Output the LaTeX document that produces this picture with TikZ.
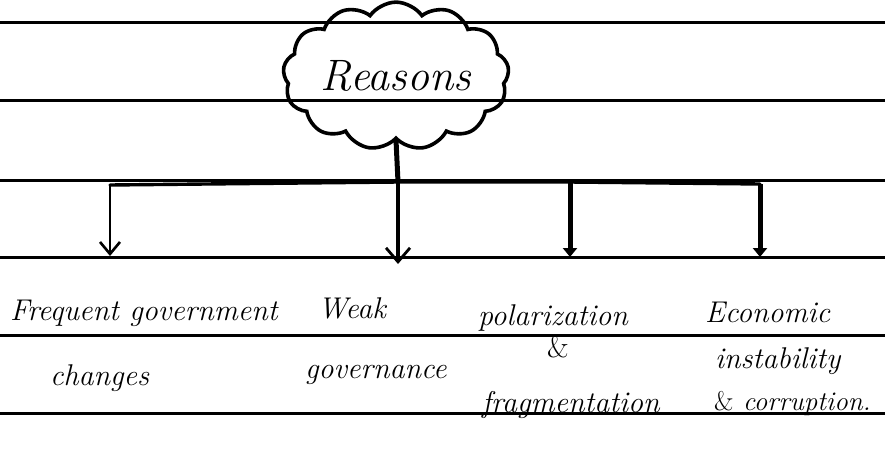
\documentclass[tikz,border=0pt]{standalone}
\usetikzlibrary{shapes.symbols,arrows.meta}
\begin{document}
\begin{tikzpicture}[x=1pt,y=-1pt,
  rule/.style={line width=3pt,black},
  bar/.style={line width=3.4pt,line cap=round},
  thinarrow/.style={line width=2.8pt,-{Straight Barb[length=12pt,width=20pt,line width=2.6pt]}},
  thickarrow/.style={line width=5pt,-{Triangle[length=9pt,width=14pt]}},
  hand/.style={inner sep=0pt,anchor=base west,font=\fontsize{30}{34}\selectfont\itshape},
  handc/.style={inner sep=0pt,anchor=base,font=\fontsize{30}{34}\selectfont}]
\useasboundingbox (0,0) rectangle (885,450);
\fill[white] (0,0) rectangle (885,450);
% ruled lines
\foreach \y in {22,100,180,257,335,413}
  \draw[rule] (0,\y) -- (885,\y);
% cloud
\node[cloud,cloud puffs=13,cloud puff arc=110,aspect=1.7,draw,line width=3.6pt,
  minimum width=226pt,minimum height=136pt,inner sep=0pt,
  font=\fontsize{44}{48}\selectfont\itshape] (reasons) at (396,76) {Reasons};
% connectors
\coordinate (b1) at (110,185);
\coordinate (b2) at (398,182);
\coordinate (b3) at (570,182);
\coordinate (b4) at (760,184);
\coordinate (e1) at (110,256);
\coordinate (e2) at (398,264);
\coordinate (e3) at (570,257);
\coordinate (e4) at (760,257);
\draw[line width=5pt] (reasons.south |- 0,140) -- (b2);
\draw[bar] (b1) -- (b2) -- (b3) -- (b4);
\draw[thinarrow] (b1) -- (e1);
\draw[line width=4.5pt,-{Straight Barb[length=14pt,width=24pt,line width=2.8pt]}] (b2) -- (e2);
\draw[thickarrow] (b3) -- (e3);
\draw[thickarrow] (b4) -- (e4);
% texts
\node[hand] (t1a) at (10,320) {Frequent government};
\node[hand] (t1b) at (50,385) {changes};
\node[hand] (t2a) at (318,318) {Weak};
\node[hand] (t2b) at (305,378) {governance};
\node[hand] (t3a) at (478,325) {polarization};
\node[handc] (t3b) at (558,357) {\&};
\node[hand] (t3c) at (482,412) {fragmentation};
\node[hand] (t4a) at (705,322) {Economic};
\node[hand] (t4b) at (715,368) {instability};
\node[hand,font=\fontsize{27}{30}\selectfont\itshape] (t4c) at (714,410) {{\normalfont\&} corruption.};
\end{tikzpicture}
\end{document}
